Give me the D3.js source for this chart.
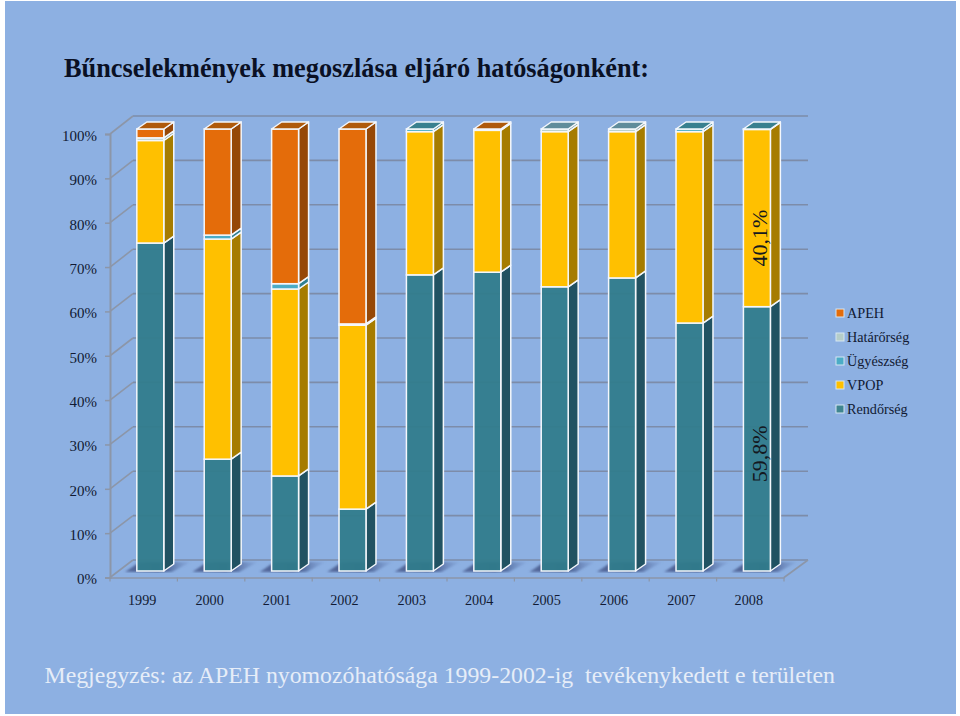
<!DOCTYPE html>
<html>
<head>
<meta charset="utf-8">
<script src="https://cdn.jsdelivr.net/npm/d3@7/dist/d3.min.js"></script>
<style>
html,body{margin:0;padding:0;background:#fff;}
svg{display:block;}
text{font-family:"Liberation Serif",serif;}
</style>
</head>
<body>
<svg id="chart" width="960" height="716"></svg>
<script>
const title = "Bűncselekmények megoszlása eljáró hatóságonként:";
const footnote = "Megjegyzés: az APEH nyomozóhatósága 1999-2002-ig  tevékenykedett e területen";
const years = ["1999","2000","2001","2002","2003","2004","2005","2006","2007","2008"];
const yTicks = [0,10,20,30,40,50,60,70,80,90,100];

const rendorseg  = [74.2,25.3,21.5,14.0,67.0,67.6,64.3,66.3,56.1,59.8];
const vpop       = [23.2,49.8,42.3,41.6,32.4,32.1,35.1,33.1,43.3,40.1];
const ugyeszseg  = [0,0.9,1.2,0,0.6,0,0,0,0.6,0.1];
const hatarorseg = [0.6,0,0,0.3,0,0,0.6,0.6,0,0];
const apeh       = [2.0,24.0,35.0,44.1,0,0.3,0,0,0,0];

const seriesNames = ["Rendőrség","VPOP","Ügyészség","Határőrség","APEH"];
const seriesValues = [rendorseg,vpop,ugyeszseg,hatarorseg,apeh];
const frontColors = ["#327C8C","#FFC000","#4BACC6","#B5CDC9","#E46C0A"];
const sideColors  = ["#215262","#A67C00","#2F7F93","#7B9792","#964807"];
const topColors   = ["#3A8296","#C79400","#38808F","#5F8C9B","#AF5A0B"];
const legendMarks = ["#3F8590","#FFC000","#4BACC6","#B5CDC9","#E46C0A"];

const annotations = [{year:"2008",value:"40,1%",at:75.3},{year:"2008",value:"59,8%",at:26.5}];

const svg = d3.select("#chart");

svg.append("rect").attr("x",5).attr("y",1).attr("width",951).attr("height",713).attr("fill","#8DB0E2");

const defs = svg.append("defs");
defs.append("filter").attr("id","blur").append("feGaussianBlur").attr("stdDeviation",1.1);
const grad = defs.append("linearGradient").attr("id","shadowGrad");
grad.append("stop").attr("offset","0%").attr("stop-color","#4D5F92").attr("stop-opacity",0.75);
grad.append("stop").attr("offset","50%").attr("stop-color","#2F3F70").attr("stop-opacity",1);
grad.append("stop").attr("offset","100%").attr("stop-color","#6A86BC").attr("stop-opacity",0.15);

// Scales
const x = d3.scaleBand().domain(years).range([110,784]).paddingInner(0.6).paddingOuter(0.3);
const yFront = d3.scaleLinear().domain([0,100]).range([577.5,134]);
const yBack = d3.scaleLinear().domain([0,100]).range([560,116]);
const yBar = d3.scaleLinear().domain([0,100]).range([571,129]);
const wallDx = 23, barOffset = 6.6, barDx = 10, barDy = -7;

const axisGrey = "#8C96A8", gridGrey = "#7D8CA9";

// Floor and walls
const grid = svg.append("g");
grid.selectAll("line.grid").data(yTicks).join("line")
  .attr("x1",110+wallDx).attr("x2",808)
  .attr("y1",d=>yBack(d)).attr("y2",d=>yBack(d))
  .attr("stroke",gridGrey).attr("stroke-width",1.6);
grid.selectAll("line.wall").data(yTicks).join("line")
  .attr("x1",110).attr("x2",110+wallDx)
  .attr("y1",d=>yFront(d)).attr("y2",d=>yBack(d))
  .attr("stroke",axisGrey).attr("stroke-width",1.6);
grid.append("line").attr("x1",808).attr("x2",784).attr("y1",yBack(0)).attr("y2",yFront(0))
  .attr("stroke",axisGrey).attr("stroke-width",1.6);

// Axes
const gy = svg.append("g").attr("transform","translate(110,0)")
  .call(d3.axisLeft(yFront).tickValues(yTicks).tickSize(5).tickPadding(8).tickFormat(d=>d+"%"));
gy.selectAll("text").attr("font-size",15).attr("fill","#111a33").attr("font-family","Liberation Serif").attr("dy","0.42em");
gy.selectAll("line").attr("stroke",axisGrey).attr("stroke-width",1.5);
gy.select("path").attr("stroke",axisGrey).attr("stroke-width",2);

const gx = svg.append("g").attr("transform",`translate(-1.5,${yFront(0)})`)
  .call(d3.axisBottom(x).tickSize(0).tickPadding(17));
gx.selectAll("text").attr("font-size",14.2).attr("fill","#111a33").attr("font-family","Liberation Serif");
gx.select("path").attr("transform","translate(1.5,0)").attr("stroke",axisGrey).attr("stroke-width",1.6);
// tick marks sit on the band boundaries
svg.append("g").selectAll("line").data(d3.range(years.length+1)).join("line")
  .attr("x1",i=>110+x.step()*i).attr("x2",i=>110+x.step()*i)
  .attr("y1",yFront(0)).attr("y2",yFront(0)+4)
  .attr("stroke",axisGrey).attr("stroke-width",1.2);

// Floor shadows
const bw = x.bandwidth();
svg.append("g").attr("filter","url(#blur)").selectAll("polygon").data(years).join("polygon")
  .attr("fill","url(#shadowGrad)")
  .attr("points",d=>{
    const l = x(d)+barOffset, b = yBar(0);
    return [[l-12,b+1],[l+3,b-9],[l+bw+27,b-9],[l+bw+8,b+1]].map(p=>p.join(",")).join(" ");
  });

// Stacked 3D bars
const barsG = svg.append("g");
years.forEach((yr,i)=>{
  const l = x(yr)+barOffset, r = l+bw;
  let acc = 0, lastIdx = 0;
  seriesValues.forEach((s,k)=>{ if(s[i]>0) lastIdx = k; });
  const g = barsG.append("g");
  seriesValues.forEach((s,k)=>{
    const v = s[i];
    if(v<=0) return;
    const y0 = yBar(acc), y1 = yBar(k===lastIdx ? 100 : acc+v);
    acc += v;
    g.append("polygon")
      .attr("points",[[r,y0],[r+barDx,y0+barDy],[r+barDx,y1+barDy],[r,y1]].map(p=>p.join(",")).join(" "))
      .attr("fill",sideColors[k]).attr("stroke","#F4F7FC").attr("stroke-width",1.5).attr("stroke-linejoin","round");
    g.append("rect").attr("x",l).attr("y",y1).attr("width",bw).attr("height",y0-y1)
      .attr("fill",frontColors[k]).attr("fill-opacity",k===0?0.95:1)
      .attr("stroke","#F4F7FC").attr("stroke-width",1.5);
    if(k===lastIdx){
      g.append("polygon")
        .attr("points",[[l,y1],[l+barDx,y1+barDy],[r+barDx,y1+barDy],[r,y1]].map(p=>p.join(",")).join(" "))
        .attr("fill",topColors[k]).attr("stroke","#F4F7FC").attr("stroke-width",1.5).attr("stroke-linejoin","round");
    }
  });
});

// Rotated annotations
svg.append("g").selectAll("text").data(annotations).join("text")
  .attr("transform",d=>`translate(${x(d.year)+barOffset+bw/2+10},${yBar(d.at)}) rotate(-90)`)
  .attr("text-anchor","middle")
  .attr("font-size",22)
  .attr("fill","#14181f")
  .text(d=>d.value);

// Legend (listed top to bottom in reverse stacking order)
const legendItems = seriesNames.map((n,k)=>({n,k})).reverse();
const ly = d3.scalePoint().domain(legendItems.map(d=>d.n)).range([313,409]);
const lg = svg.append("g").selectAll("g").data(legendItems).join("g")
  .attr("transform",d=>`translate(836,${ly(d.n)})`);
lg.append("rect").attr("x",0).attr("y",-4).attr("width",8).attr("height",8)
  .attr("fill",d=>legendMarks[d.k]).attr("stroke","#D6E6F2").attr("stroke-width",1);
lg.append("text").attr("x",11).attr("y",5).attr("font-size",14.2).attr("fill","#111a33").text(d=>d.n);

// Title + footnote
svg.append("text").attr("x",64).attr("y",77).attr("font-size",26.3).attr("font-weight","bold")
  .attr("fill","#0a1024").text(title);
svg.append("text").attr("x",44.5).attr("y",683).attr("font-size",23.8).attr("fill","#E6EDF8")
  .style("white-space","pre").text(footnote);
</script>
</body>
</html>
